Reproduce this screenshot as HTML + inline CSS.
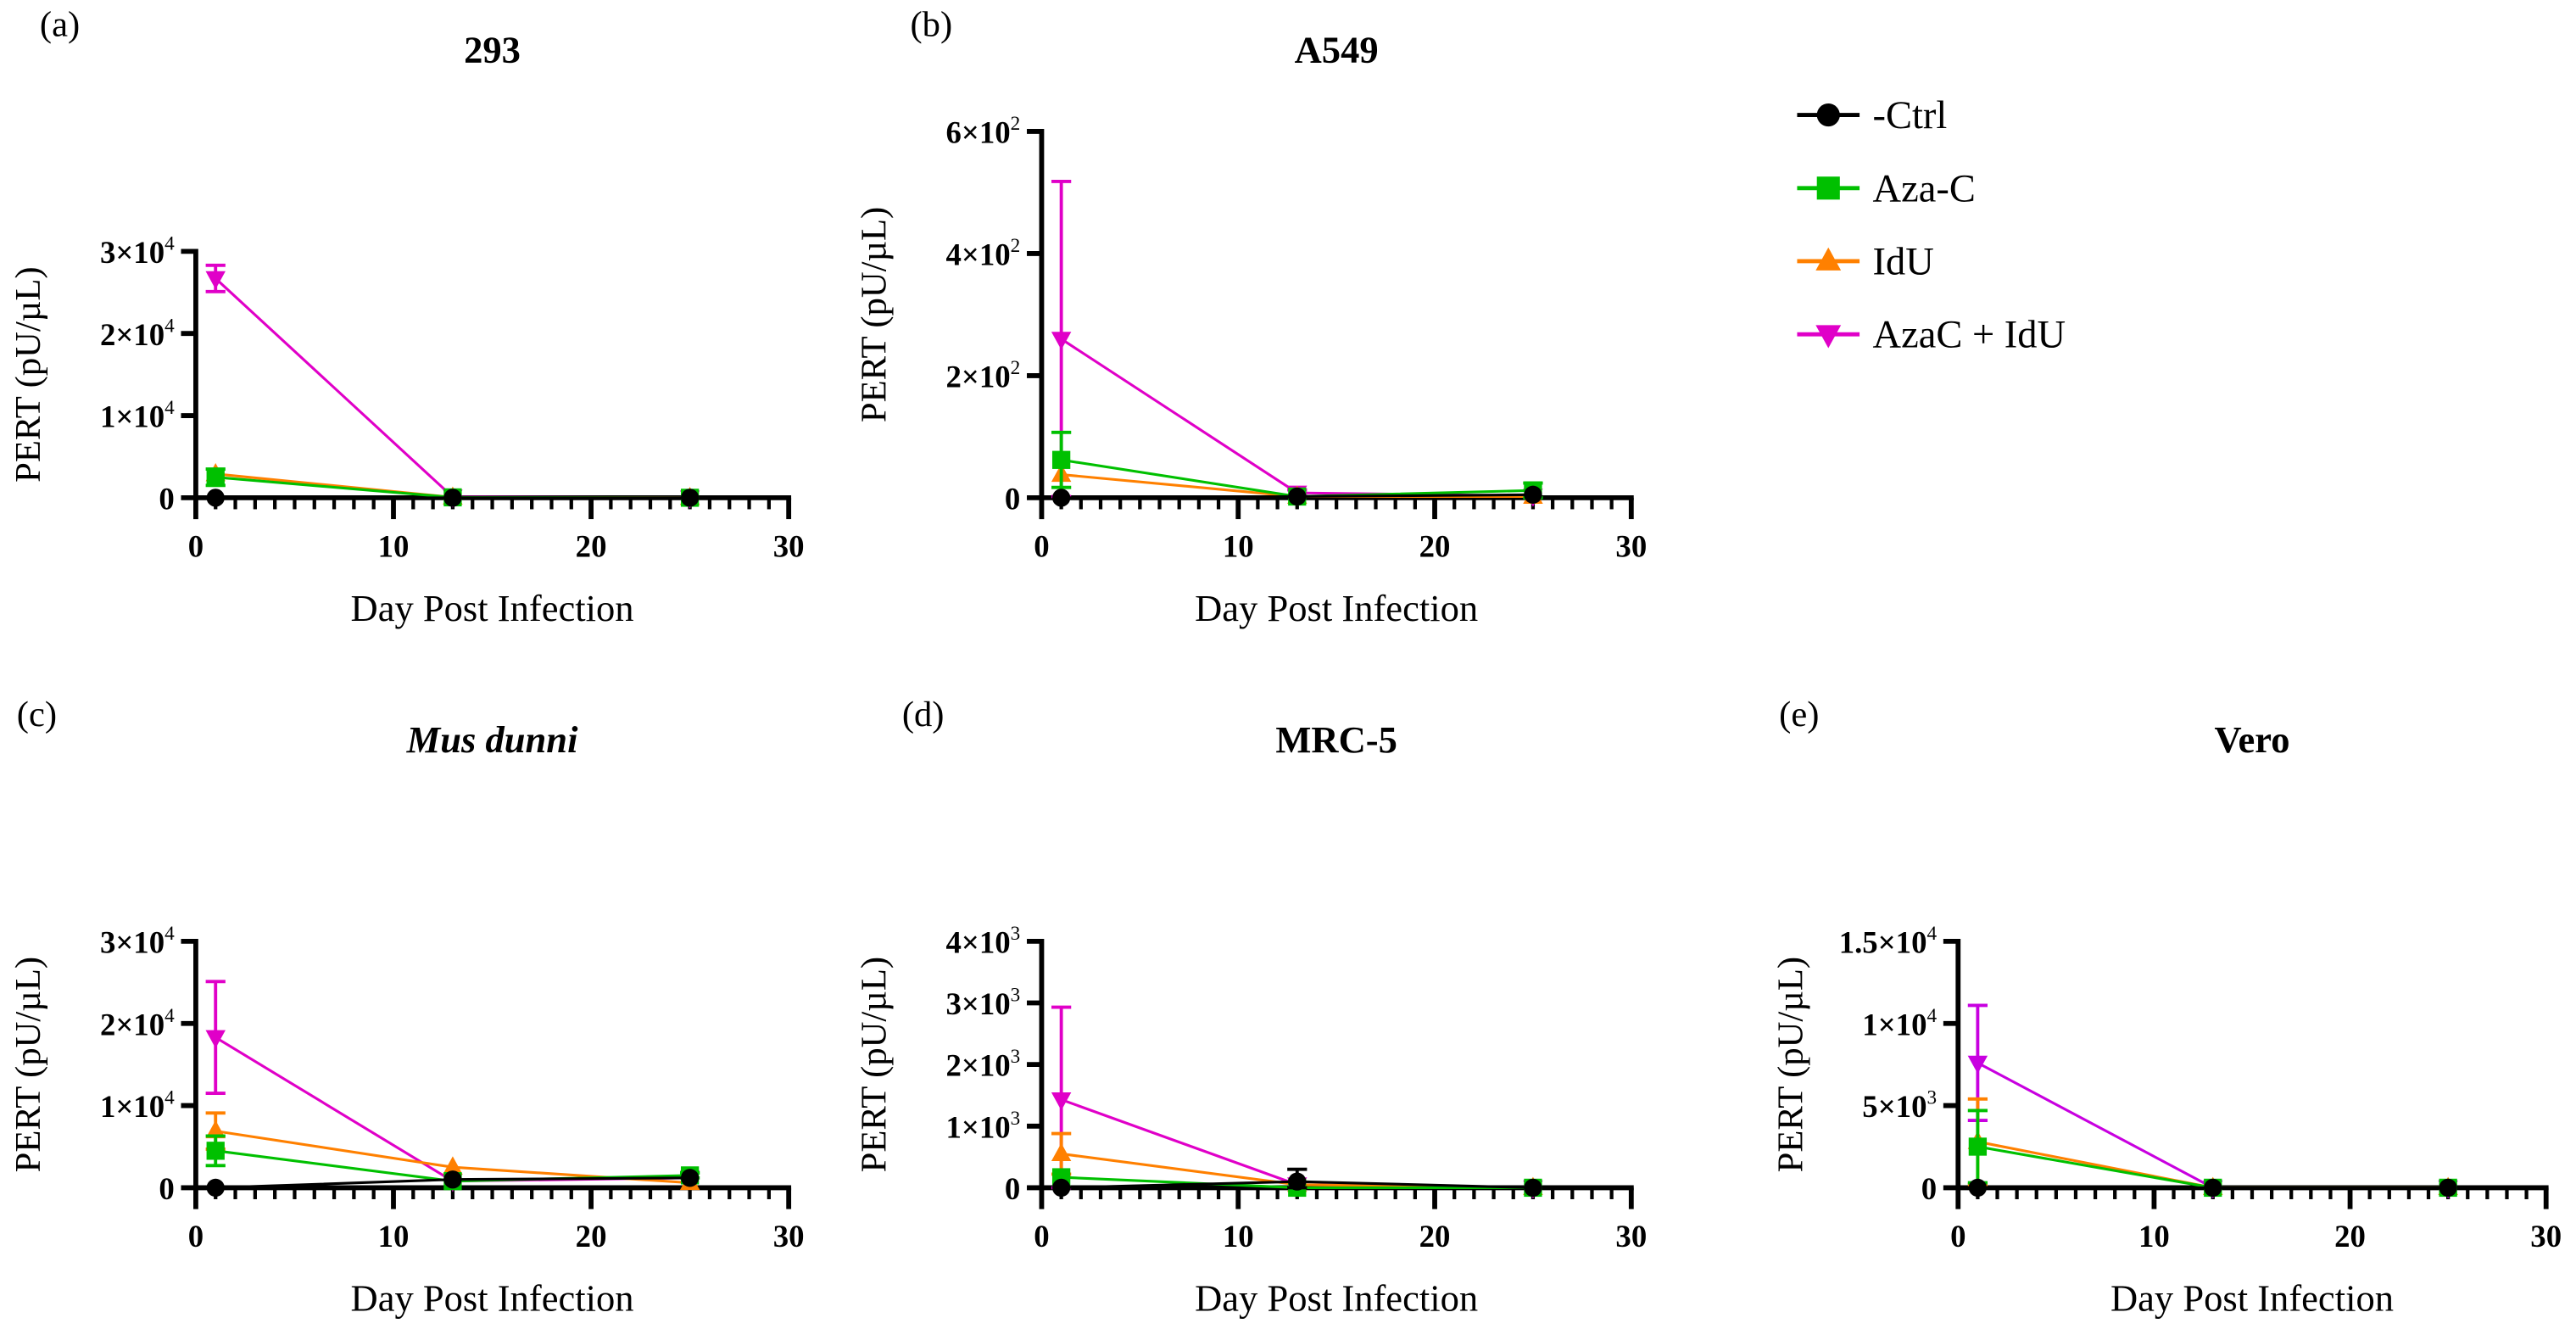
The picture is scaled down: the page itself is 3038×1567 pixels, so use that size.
<!DOCTYPE html>
<html><head><meta charset="utf-8"><style>
html,body{margin:0;padding:0;background:#fff;}
svg{display:block;font-family:"Liberation Serif",serif;}
</style></head><body>
<svg id="fig" width="3038" height="1567" viewBox="0 0 1568 809" xmlns="http://www.w3.org/2000/svg"></svg>
<script>
const days = [1, 13, 25];
const seriesNames = ["-Ctrl", "Aza-C", "IdU", "AzaC + IdU"];
// panel a: 293
const a_ctrl = [0, 0, 0];
const a_aza = [2500, 50, 0];
const a_idu = [2900, 50, 0];
const a_combo = [26700, 100, 0];
const a_err_aza = [1000, 0, 0];
const a_err_combo = [1600, 0, 0];
// panel b: A549
const b_ctrl = [0, 2, 5];
const b_aza = [62, 2, 12];
const b_idu = [38, 2, 2];
const b_combo = [260, 8, 3];
const b_err_aza = [45, 0, 12];
const b_err_combo = [258, 5, 0];
// panel c: Mus dunni
const c_ctrl = [0, 1000, 1200];
const c_aza = [4500, 800, 1500];
const c_idu = [6900, 2500, 600];
const c_combo = [18300, 800, 1200];
const c_err_aza = [1800, 0, 300];
const c_err_idu = [2200, 0, 0];
const c_err_combo = [6800, 0, 0];
// panel d: MRC-5
const d_ctrl = [0, 100, 0];
const d_aza = [170, 0, 0];
const d_idu = [550, 50, 0];
const d_combo = [1430, 50, 0];
const d_err_ctrl = [0, 200, 0];
const d_err_idu = [330, 0, 0];
const d_err_combo = [1500, 0, 0];
// panel e: Vero
const e_ctrl = [0, 0, 0];
const e_aza = [2500, 0, 0];
const e_idu = [2800, 0, 0];
const e_combo = [7600, 0, 0];
const e_err_aza = [2200, 0, 0];
const e_err_idu = [2600, 0, 0];
const e_err_combo = [3500, 0, 0];
const xTicks = [0, 10, 20, 30];
const a_yTicks = [[0,"0",""],[10000,"1×10","4"],[20000,"2×10","4"],[30000,"3×10","4"]];
const b_yTicks = [[0,"0",""],[200,"2×10","2"],[400,"4×10","2"],[600,"6×10","2"]];
const c_yTicks = [[0,"0",""],[10000,"1×10","4"],[20000,"2×10","4"],[30000,"3×10","4"]];
const d_yTicks = [[0,"0",""],[1000,"1×10","3"],[2000,"2×10","3"],[3000,"3×10","3"],[4000,"4×10","3"]];
const e_yTicks = [[0,"0",""],[5000,"5×10","3"],[10000,"1×10","4"],[15000,"1.5×10","4"]];

const colors = ["#000000", "#00c000", "#ff8000", "#e000c8"];
const NS = "http://www.w3.org/2000/svg";
const svg = document.getElementById("fig");
function mk(tag, attrs, parent, text) {
  const e = document.createElementNS(NS, tag);
  for (const k in attrs) e.setAttribute(k, attrs[k]);
  if (text !== undefined) e.textContent = text;
  (parent || svg).appendChild(e);
  return e;
}
function marker(g, kind, x, y, col, sz) {
  const r = sz || 5.5;
  let m;
  if (kind === 0) m = mk("circle", {cx:x, cy:y, r:r, fill:col}, g);
  else if (kind === 1) m = mk("rect", {x:x-r, y:y-r, width:2*r, height:2*r, fill:col}, g);
  else if (kind === 2) m = mk("polygon", {points:`${x},${y-r*1.2} ${x+r*1.1},${y+r*0.8} ${x-r*1.1},${y+r*0.8}`, fill:col}, g);
  else m = mk("polygon", {points:`${x},${y+r*1.2} ${x+r*1.1},${y-r*0.8} ${x-r*1.1},${y-r*0.8}`, fill:col}, g);
  return m;
}
function panel(p) {
  const g = mk("g", {});
  
  
  const X = v => p.x0 + (v / 30) * (p.x1 - p.x0);
  const Y = v => p.y0 - (v / p.ymax) * (p.y0 - p.ytop);
  const lab = mk("text", {x:p.lx, y:p.ly, "font-size":22}, g, "(" + p.id + ")");
  
  
  const t = mk("text", {x:(p.x0+p.x1)/2, y:p.ly+16, "font-size":23, "font-weight":"bold", "text-anchor":"middle", "font-style":p.italic?"italic":"normal"}, g, p.title);
  
  
  // axes
  const ax = mk("g", {}, g);
  
  
  mk("line", {x1:p.x0, x2:p.x1+1.5, y1:p.y0, y2:p.y0, stroke:"#000", "stroke-width":3}, ax);
  mk("line", {x1:p.x0, x2:p.x0, y1:p.ytop-1.5, y2:p.y0+13, stroke:"#000", "stroke-width":3}, ax);
  for (let d = 1; d <= 30; d++) {
    const maj = d % 10 === 0;
    mk("line", {x1:X(d), x2:X(d), y1:p.y0, y2:p.y0 + (maj ? 13 : 7), stroke:"#000", "stroke-width":maj?3:2.2}, ax);
  }
  xTicks.forEach(v => {
    const tt = mk("text", {x:X(v), y:p.y0+36, "font-size":19, "font-weight":"bold", "text-anchor":"middle"}, ax, String(v));
    
    
  });
  p.yTicks.forEach(tk => {
    const y = Y(tk[0]);
    mk("line", {x1:p.x0-9, x2:p.x0, y1:y, y2:y, stroke:"#000", "stroke-width":3}, ax);
    const tt = mk("text", {x:p.x0-13, y:y+7, "font-size":19, "font-weight":"bold", "text-anchor":"end"}, ax);
    
    
    mk("tspan", {}, tt, tk[1]);
    if (tk[2]) mk("tspan", {dy:-8, "font-size":12, "font-weight":"normal"}, tt, tk[2]);
  });
  const yl = mk("text", {x:0, y:0, "font-size":22, "text-anchor":"middle", transform:`translate(${p.x0-95},${(p.ytop+p.y0)/2}) rotate(-90)`}, g, "PERT (pU/µL)");
  
  
  const xl = mk("text", {x:(p.x0+p.x1)/2, y:p.y0+75, "font-size":23, "text-anchor":"middle"}, g, "Day Post Infection");
  
  
  // series (drawn combo first so ctrl on top)
  const ser = p.series;
  for (let s = 3; s >= 0; s--) {
    const sg = mk("g", {}, g);
    
    
    const col = s === 3 && p.comboCol ? p.comboCol : colors[s];
    const vals = ser[s], errs = p.errs[s];
    if (errs) errs.forEach((e, i) => {
      if (e <= 0) return;
      const x = X(days[i]);
      mk("line", {x1:x, x2:x, y1:Y(vals[i]), y2:Y(vals[i]+e), stroke:col, "stroke-width":2}, sg);
      mk("line", {x1:x-6, x2:x+6, y1:Y(vals[i]+e), y2:Y(vals[i]+e), stroke:col, "stroke-width":2}, sg);
      const lo = Math.max(0, vals[i]-e);
      mk("line", {x1:x, x2:x, y1:Y(vals[i]), y2:Y(lo), stroke:col, "stroke-width":2}, sg);
      mk("line", {x1:x-6, x2:x+6, y1:Y(lo), y2:Y(lo), stroke:col, "stroke-width":2}, sg);
    });
    mk("polyline", {points: vals.map((v,i)=>X(days[i])+","+Y(v)).join(" "), fill:"none", stroke:col, "stroke-width":1.6}, sg);
    vals.forEach((v,i)=>{
      const m = marker(sg, s, X(days[i]), Y(v), col);
      
      
    });
  }
}
panel({id:"a", title:"293", x0:119, x1:480, y0:303, ytop:153, ymax:30000, lx:24, ly:22, yTicks:a_yTicks,
  series:[a_ctrl,a_aza,a_idu,a_combo], errs:[null,a_err_aza,null,a_err_combo]});
panel({id:"b", title:"A549", x0:634, x1:993, y0:303, ytop:80, ymax:600, lx:554, ly:22, yTicks:b_yTicks,
  series:[b_ctrl,b_aza,b_idu,b_combo], errs:[null,b_err_aza,null,b_err_combo]});
panel({id:"c", title:"Mus dunni", italic:true, x0:119, x1:480, y0:723, ytop:573, ymax:30000, lx:10, ly:442, yTicks:c_yTicks,
  series:[c_ctrl,c_aza,c_idu,c_combo], errs:[null,c_err_aza,c_err_idu,c_err_combo]});
panel({id:"d", title:"MRC-5", x0:634, x1:993, y0:723, ytop:573, ymax:4000, lx:549, ly:442, yTicks:d_yTicks,
  series:[d_ctrl,d_aza,d_idu,d_combo], errs:[d_err_ctrl,null,d_err_idu,d_err_combo]});
panel({id:"e", title:"Vero", x0:1192, x1:1550, y0:723, ytop:573, ymax:15000, lx:1083, ly:442, yTicks:e_yTicks, comboCol:"#c800e0",
  series:[e_ctrl,e_aza,e_idu,e_combo], errs:[null,e_err_aza,e_err_idu,e_err_combo]});
// legend
const lg = mk("g", {});


seriesNames.forEach((n, i) => {
  const y = 70 + i * 44.5;
  const e = mk("g", {}, lg);
  
  
  mk("line", {x1:1094, x2:1132, y1:y, y2:y, stroke:colors[i], "stroke-width":2.5}, e);
  marker(e, i, 1113, y, colors[i], 7);
  mk("text", {x:1140, y:y+8, "font-size":24}, e, n);
});
</script>
</body></html>
